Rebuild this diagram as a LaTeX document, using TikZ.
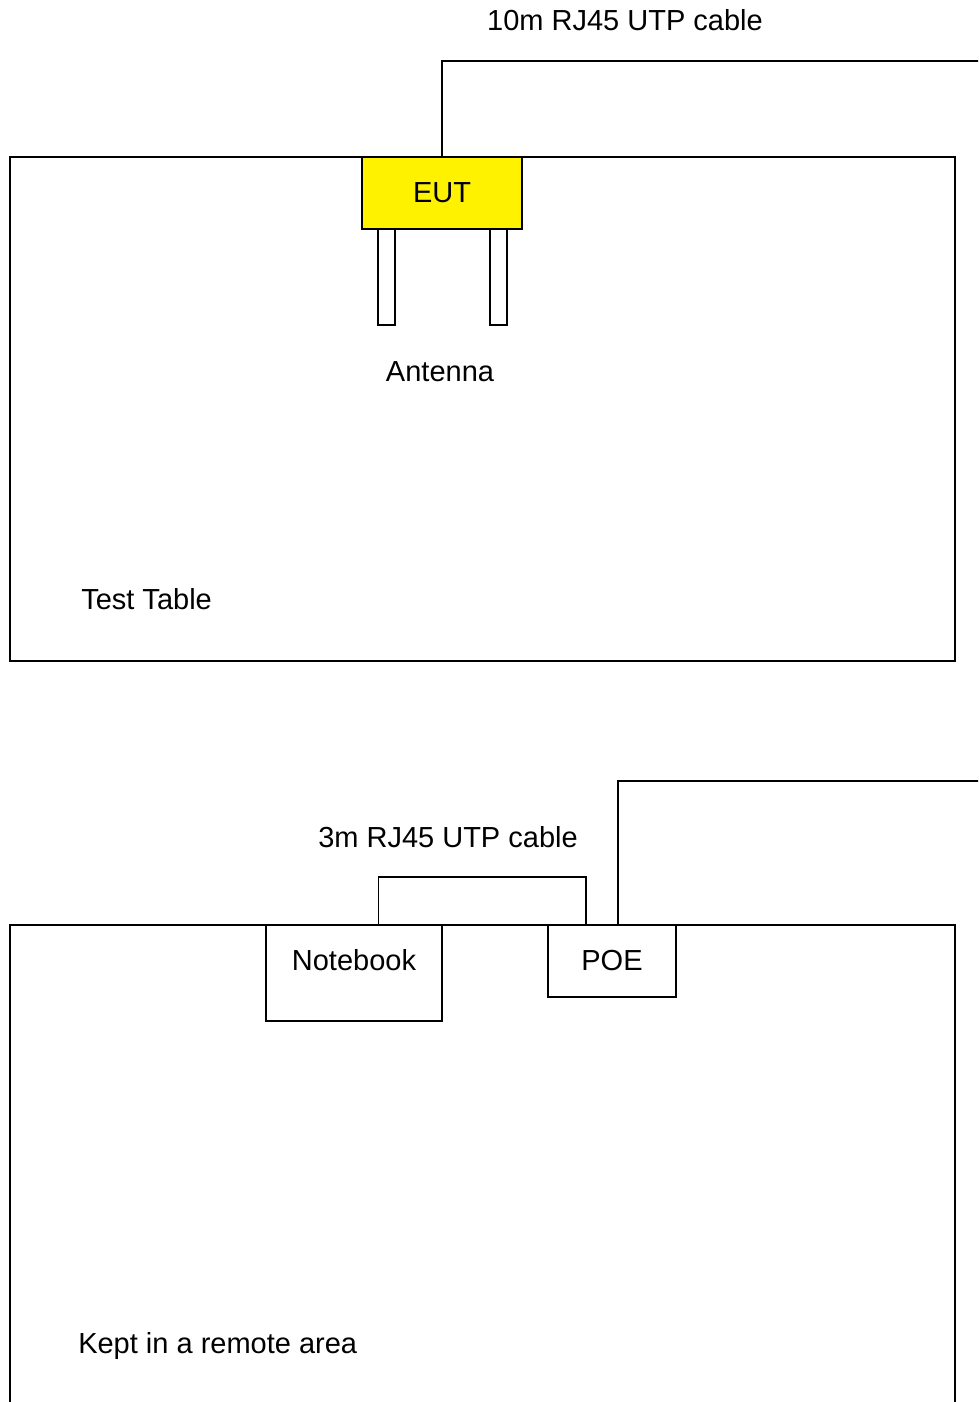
\documentclass[tikz,border=0pt]{standalone}
\usepackage{fontspec}
\setmainfont{Liberation Sans}
\begin{document}
\begin{tikzpicture}[x=0.75pt,y=-0.75pt,
  every node/.style={font=\fontsize{21.75}{26}\selectfont},
  box/.style={draw,line width=1.3pt,inner sep=0pt,outer sep=0pt},
  cable/.style={draw,line width=1.3pt},
  txt/.style={inner sep=0pt,anchor=base}]
\useasboundingbox (0,0) rectangle (978,1402);
\clip (0,0) rectangle (978,1402);
% top table
\node[box,minimum width=945*0.75pt,minimum height=504*0.75pt] (table1) at (482.5,409) {};
\node[txt,anchor=base west] (tt) at (81,609) {Test Table};
% antennas
\node[box,fill=white,minimum width=17*0.75pt,minimum height=96*0.75pt] (antL) at (386.5,277) {};
\node[box,fill=white,minimum width=17*0.75pt,minimum height=96*0.75pt] (antR) at (498.5,277) {};
\node[txt] (antlbl) at (440,381) {Antenna};
% EUT
\node[box,fill=yellow,minimum width=160*0.75pt,minimum height=72*0.75pt] (eut) at (442,193) {};
\node[txt] (euttxt) at (442,202) {EUT};
% top cable
\coordinate (c1) at (442,61);
\coordinate (c2) at (985,61);
\draw[cable] (eut.north) -- (c1) -- (c2);
\node[txt] (cab10) at (625,31) {10m RJ45 UTP cable};
% bottom table
\node[box,minimum width=945*0.75pt,minimum height=520*0.75pt] (table2) at (482.5,1185) {};
\node[txt,anchor=base west] (remote) at (78,1353) {Kept in a remote area};
% notebook
\node[box,fill=white,minimum width=176*0.75pt,minimum height=96*0.75pt] (nb) at (354,973) {};
\node[txt] (nbtxt) at (354,970) {Notebook};
% POE
\node[box,fill=white,minimum width=128*0.75pt,minimum height=72*0.75pt] (poe) at (612,961) {};
\node[txt] (poetxt) at (612,970) {POE};
% 3m cable
\coordinate (n1) at (378.5,925);
\coordinate (n2) at (586,925);
\draw[cable] (n1) -- (378.5,877) -- (586,877) -- (n2);
\node[txt] (cab3) at (448,847) {3m RJ45 UTP cable};
% POE to EUT cable
\coordinate (p1) at (618,925);
\coordinate (p2) at (985,781);
\draw[cable] (p1) |- (p2);
\end{tikzpicture}
\end{document}
